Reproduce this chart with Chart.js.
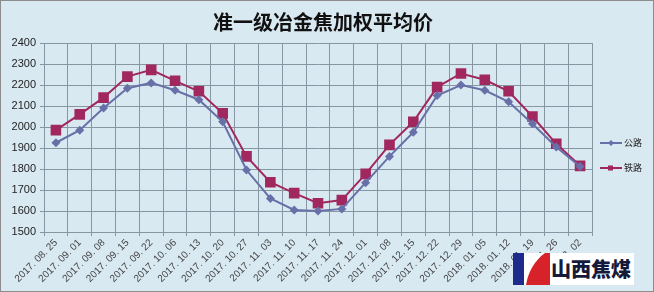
<!DOCTYPE html>
<html>
<head>
<meta charset="utf-8">
<script src="https://cdn.jsdelivr.net/npm/chart.js@4"></script>
<style>
  html, body { margin: 0; padding: 0; background: #d9e9f2; }
  #wrap { position: relative; width: 654px; height: 292px; overflow: hidden; }
  canvas { display: block; }
  #logo { position: absolute; left: 513px; top: 253px; height: 32px; display: flex; align-items: stretch; }
  #logo .txt { background: #ffffff; font-family: "Noto Sans CJK SC", sans-serif; font-weight: 900; font-size: 20px; line-height: 32px; color: #151a3a; padding: 0 3px 0 1px; letter-spacing: 0px; }
</style>
</head>
<body>
<div id="wrap">
  <canvas id="c" width="654" height="292"></canvas>
  <div id="logo">
    <svg width="37" height="32" viewBox="0 0 37 32">
      <rect x="0" y="0" width="37" height="32" fill="#ffffff"/>
      <rect x="0" y="0" width="11" height="32" fill="#1c2b8c"/>
      <path d="M13,32 C15,19 22,7 32,0 L37,0 L37,32 Z" fill="#d8222a"/>
    </svg>
    <div class="txt">山西焦煤</div>
  </div>
</div>
<script>
const titleText = "准一级冶金焦加权平均价";
const categories = [
  "2017. 08. 25", "2017. 09. 01", "2017. 09. 08", "2017. 09. 15", "2017. 09. 22",
  "2017. 10. 06", "2017. 10. 13", "2017. 10. 20", "2017. 10. 27", "2017. 11. 03",
  "2017. 11. 10", "2017. 11. 17", "2017. 11. 24", "2017. 12. 01", "2017. 12. 08",
  "2017. 12. 15", "2017. 12. 22", "2017. 12. 29", "2018. 01. 05", "2018. 01. 12",
  "2018. 01. 19", "2018. 01. 26", "2018. 02. 02"
];
const roadName = "公路";
const railName = "铁路";
const roadValues = [1925, 1985, 2090, 2185, 2210, 2175, 2130, 2025, 1795, 1660, 1605, 1600, 1610, 1735, 1860, 1975, 2150, 2200, 2175, 2120, 2015, 1905, 1812];
const railValues = [1985, 2060, 2140, 2240, 2272, 2220, 2170, 2065, 1860, 1737, 1685, 1637, 1652, 1777, 1915, 2025, 2190, 2255, 2225, 2170, 2050, 1920, 1815];
const yMin = 1500, yMax = 2400, yStep = 100;

const roadColor = "#6870a8";
const railColor = "#a0285f";
const gridColor = "#8696a2";
const bgColor = "#d9e9f2";

const bgPlugin = {
  id: 'bg',
  beforeDraw(chart) {
    const ctx = chart.ctx;
    ctx.save();
    ctx.fillStyle = bgColor;
    ctx.fillRect(0, 0, chart.width, chart.height);
    ctx.restore();
  },
  afterDraw(chart) {
    const ctx = chart.ctx;
    ctx.save();
    ctx.strokeStyle = "#8c8c8c";
    ctx.lineWidth = 1;
    ctx.strokeRect(0.5, 0.5, chart.width - 1, chart.height - 1);
    // title
    ctx.fillStyle = "#111";
    ctx.font = "bold 20px 'Noto Sans CJK SC', sans-serif";
    ctx.textAlign = "center";
    ctx.textBaseline = "middle";
    ctx.fillText(titleText, 323, 22);
    // legend
    const items = chart.data.datasets;
    const ys = [143, 168];
    ctx.font = "9px 'Noto Sans CJK SC', sans-serif";
    items.forEach((ds, i) => {
      const y = ys[i];
      ctx.strokeStyle = ds.borderColor;
      ctx.lineWidth = 2;
      ctx.beginPath();
      ctx.moveTo(600, y);
      ctx.lineTo(622, y);
      ctx.stroke();
      ctx.fillStyle = ds.borderColor;
      if (ds.pointStyle === 'rect') {
        ctx.fillRect(608, y - 2.5, 5, 5);
      } else {
        ctx.beginPath();
        ctx.moveTo(611, y - 3); ctx.lineTo(614, y); ctx.lineTo(611, y + 3); ctx.lineTo(608, y);
        ctx.closePath(); ctx.fill();
      }
      ctx.fillStyle = "#222";
      ctx.textAlign = "left";
      ctx.fillText(ds.label, 624, y);
    });
    ctx.restore();
  }
};

new Chart(document.getElementById('c'), {
  type: 'line',
  data: {
    labels: categories,
    datasets: [
      {
        label: roadName, data: roadValues,
        borderColor: roadColor, backgroundColor: roadColor,
        borderWidth: 2, pointStyle: 'rectRot', pointRadius: 4.5,
        pointBorderWidth: 0, tension: 0
      },
      {
        label: railName, data: railValues,
        borderColor: railColor, backgroundColor: railColor,
        borderWidth: 2, pointStyle: 'rect', pointRadius: 7.5,
        pointBorderWidth: 0, tension: 0
      }
    ]
  },
  options: {
    responsive: false,
    animation: false,
    devicePixelRatio: 1,
    layout: { padding: { top: 43, right: 62, left: 0, bottom: 0 } },
    plugins: { legend: { display: false }, title: { display: false }, tooltip: { enabled: false } },
    scales: {
      x: {
        offset: true,
        grid: { offset: true, color: gridColor, lineWidth: 1, tickLength: 4, drawTicks: true },
        border: { color: gridColor, width: 1 },
        ticks: {
          autoSkip: false, minRotation: 45, maxRotation: 45, padding: 1,
          color: "#444", font: { family: "'Liberation Sans', sans-serif", size: 10 }
        },
        afterFit(scale) { scale.height = 60; }
      },
      y: {
        min: yMin, max: yMax,
        grid: { color: gridColor, lineWidth: 1, tickLength: 4 },
        border: { color: gridColor, width: 1 },
        ticks: {
          stepSize: yStep, padding: 4, color: "#222",
          font: { family: "'Liberation Sans', sans-serif", size: 11 },
          callback: (v) => String(v)
        },
        afterFit(scale) { scale.width = 44; }
      }
    }
  },
  plugins: [bgPlugin]
});
</script>
</body>
</html>
